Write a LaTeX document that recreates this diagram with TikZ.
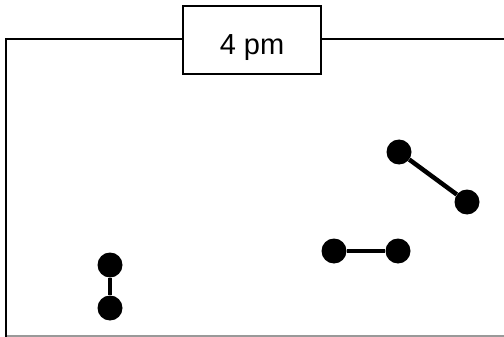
\documentclass[tikz,border=0pt]{standalone}
\usepackage{fontspec}
\setmainfont{Liberation Sans}
\begin{document}
\begin{tikzpicture}[x=1pt,y=-1pt,
  frameline/.style={line width=2pt,black},
  dot/.style={circle,fill=black,inner sep=0pt,minimum size=25pt},
  bar/.style={line width=4.5pt,black},
  label/.style={draw=black,line width=2pt,fill=white,minimum width=138pt,minimum height=68pt,inner sep=0pt}]
  \useasboundingbox (0,0) rectangle (504,337);
  % open frame: left side, top edge and a faint bottom edge
  \draw[gray!80,line width=1.5pt] (6,336) -- (504,336);
  \draw[frameline] (6,337) -- (6,39) -- (504,39);
  % time label on the top edge
  \node[label] (time) at (252,40) {};
  \node[anchor=base,font=\fontsize{29}{32}\selectfont] (timetext) at (252,55) {4 pm};
  % pairs
  \node[dot] (a1) at (399,152) {};
  \node[dot] (a2) at (467,202) {};
  \node[dot] (b1) at (334,251) {};
  \node[dot] (b2) at (398,251) {};
  \node[dot] (c1) at (110,265) {};
  \node[dot] (c2) at (110,308) {};
  \draw[bar] (a1) -- (a2);
  \draw[bar] (b1) -- (b2);
  \draw[bar] (c1) -- (c2);
\end{tikzpicture}
\end{document}
